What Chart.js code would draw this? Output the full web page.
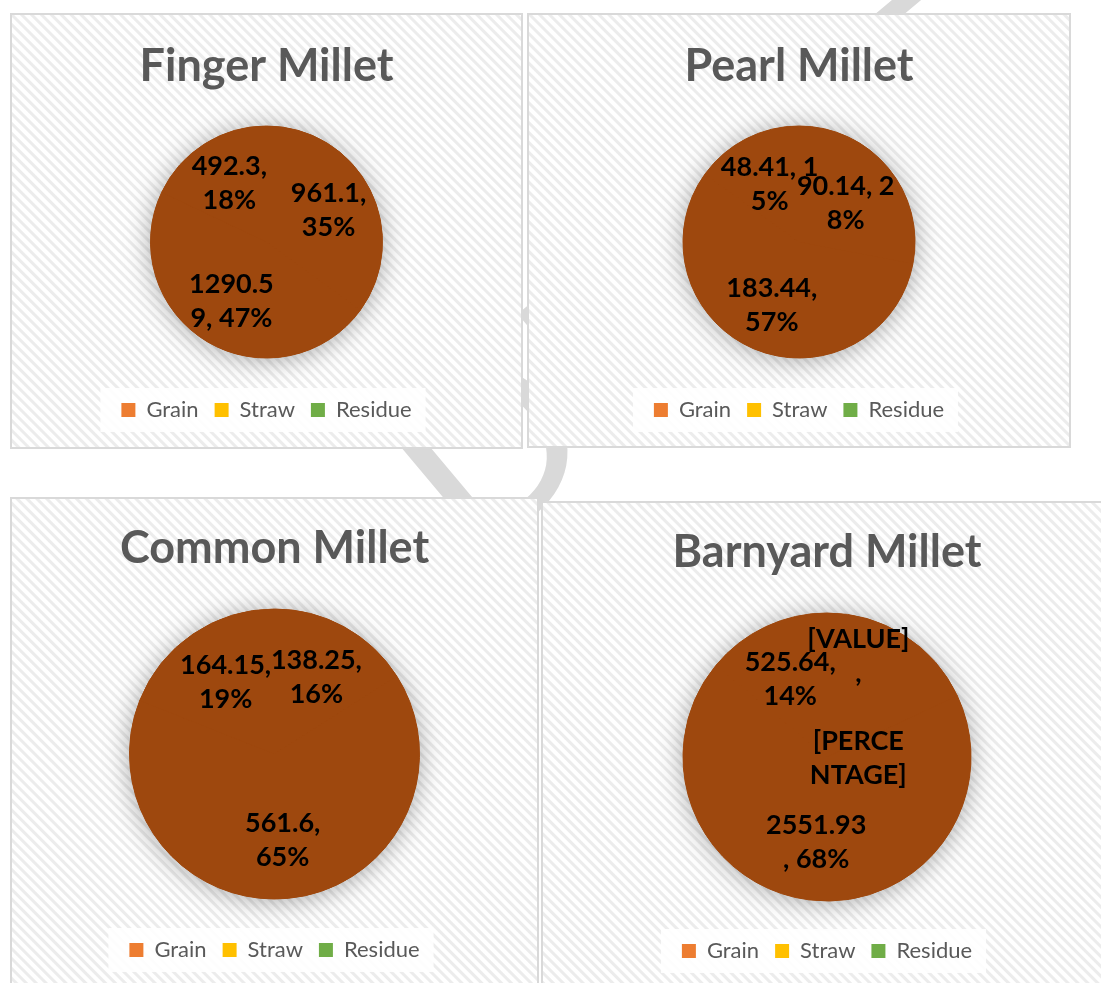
<!DOCTYPE html>
<html>
<head>
<meta charset="utf-8">
<script src="https://cdn.jsdelivr.net/npm/chart.js@4"></script>
<style>
  body { margin: 0; background: #fff; width: 1101px; height: 983px; overflow: hidden; position: relative; font-family: Lato, sans-serif; }
  .panel { position: absolute; box-sizing: border-box; border: 2px solid #d9d9d9;
    background: repeating-linear-gradient(45deg, #fff 0px, #fff 2.5px, #ececec 3.5px, #ececec 5.5px, #fff 6.5px, #fff 7px); }
  .panel canvas { display: block; }
  #watermark { position: absolute; left: 700px; top: 260px; transform: translate(-50%, -50%) rotate(-40deg);
    font: 230px Lato, sans-serif; color: #d9d9d9; white-space: nowrap; }
</style>
</head>
<body>
<div id="watermark">DRAFT</div>
<div class="panel" style="left:10px; top:13px; width:513px; height:436px"><canvas id="finger" width="509" height="432"></canvas></div>
<div class="panel" style="left:527px; top:13px; width:544px; height:435px"><canvas id="pearl" width="540" height="431"></canvas></div>
<div class="panel" style="left:10px; top:497px; width:529px; height:500px"><canvas id="common" width="525" height="496"></canvas></div>
<div class="panel" style="left:541px; top:501px; width:572px; height:500px"><canvas id="barnyard" width="568" height="496"></canvas></div>
<script>
// legend entries, first slice starts at 12 o'clock going clockwise
const categories = ['Grain', 'Straw', 'Residue'];
const legendColors = ['#ED7D31', '#FFC000', '#70AD47'];
const sliceColor = '#9E480E';

const fingerValues = [961.1, 1290.59, 492.3];
const fingerLabels = [['961.1,', '35%'], ['1290.5', '9, 47%'], ['492.3,', '18%']];

const pearlValues = [90.14, 183.44, 48.41];
const pearlLabels = [['90.14, 2', '8%'], ['183.44,', '57%'], ['48.41, 1', '5%']];

const commonValues = [138.25, 561.6, 164.15];
const commonLabels = [['138.25,', '16%'], ['561.6,', '65%'], ['164.15,', '19%']];

// first value has a broken label in the original, estimated from the 18% share
const barnyardValues = [675.4, 2551.93, 525.64];
const barnyardLabels = [['[VALUE]', ',', '', '[PERCE', 'NTAGE]'], ['2551.93', ', 68%'], ['525.64,', '14%']];

const titleSize = 45;
const legendSize = 22;
const legendPad = 16;
const labelFont = 'bold 27px Lato';
const labelLine = 34;

const shadowPlugin = {
  id: 'pieShadow',
  beforeDraw(chart) {
    // white box behind the legend
    const boxes = chart.legend.legendHitBoxes;
    if (!boxes.length) return;
    const last = boxes[boxes.length - 1];
    const cy = boxes[0].top + boxes[0].height / 2;
    const ctx = chart.ctx;
    ctx.save();
    ctx.fillStyle = 'rgba(255,255,255,0.9)';
    const x0 = boxes[0].left - 21;
    ctx.fillRect(x0, cy - 22, last.left + last.width + 14 - x0, 44);
    ctx.restore();
  },
  beforeDatasetsDraw(chart) {
    const arc = chart.getDatasetMeta(0).data[0];
    const ctx = chart.ctx;
    ctx.save();
    ctx.shadowColor = 'rgba(0,0,0,0.35)';
    ctx.shadowBlur = 26;
    ctx.shadowOffsetY = 2;
    ctx.fillStyle = sliceColor;
    ctx.beginPath();
    ctx.arc(arc.x, arc.y, arc.outerRadius, 0, Math.PI * 2);
    ctx.fill();
    ctx.restore();
  }
};

function labelPlugin(labels) {
  return {
    id: 'sliceLabels',
    afterDatasetsDraw(chart) {
      const ctx = chart.ctx;
      ctx.save();
      ctx.font = labelFont;
      ctx.fillStyle = '#000';
      ctx.textAlign = 'center';
      ctx.textBaseline = 'middle';
      chart.getDatasetMeta(0).data.forEach((arc, i) => {
        const lines = labels[i];
        const w = Math.max(...lines.map(t => ctx.measureText(t).width));
        const h = lines.length * labelLine;
        const mid = (arc.startAngle + arc.endAngle) / 2;
        const R = arc.outerRadius;
        // start at 60% of the radius, pull in until the label box sits inside the pie
        let d = R * 0.6;
        const fits = (dd) => {
          const cx = Math.cos(mid) * dd, cy = Math.sin(mid) * dd;
          return [[-1, -1], [1, -1], [-1, 1], [1, 1]].every(([sx, sy]) =>
            Math.hypot(cx + sx * w / 2, cy + sy * h / 2 * 0.8) <= R);
        };
        while (d > 0 && !fits(d)) d -= 1;
        const px = arc.x + Math.cos(mid) * d;
        const py = arc.y + Math.sin(mid) * d;
        lines.forEach((t, k) => {
          ctx.fillText(t, px, py + (k - (lines.length - 1) / 2) * labelLine);
        });
      });
      ctx.restore();
    }
  };
}

function drawPie(id, title, values, labels, box) {
  const canvas = document.getElementById(id);
  const H = canvas.height;
  const titleLine = titleSize * 1.2;
  const chartBottom = box.legendY - legendSize / 2 - legendPad;
  const chartTop = 2 * box.pieY - chartBottom;

  new Chart(canvas, {
    type: 'pie',
    data: {
      labels: categories,
      datasets: [{
        data: values,
        backgroundColor: sliceColor,
        borderColor: sliceColor,
        borderWidth: 1,
        hoverOffset: 0
      }]
    },
    options: {
      responsive: false,
      animation: false,
      events: [],
      radius: box.r,
      layout: { padding: { top: 0, left: 0, right: 0, bottom: H - 10 - legendSize / 2 - box.legendY } },
      plugins: {
        title: {
          display: true,
          text: title,
          color: '#595959',
          font: { family: 'Lato', size: titleSize, weight: 'bold', lineHeight: 1.2 },
          padding: { top: box.titleY - titleLine / 2, bottom: chartTop - box.titleY - titleLine / 2 }
        },
        legend: {
          position: 'bottom',
          labels: {
            color: '#595959',
            font: { family: 'Lato', size: legendSize },
            boxWidth: 14,
            boxHeight: 14,
            padding: legendPad,
            generateLabels: () => categories.map((c, i) => ({
              text: c,
              fillStyle: legendColors[i],
              strokeStyle: legendColors[i],
              lineWidth: 0,
              fontColor: '#595959',
              hidden: false,
              index: i
            }))
          }
        },
        tooltip: { enabled: false }
      }
    },
    plugins: [shadowPlugin, labelPlugin(labels)]
  });
}

drawPie('finger', 'Finger Millet', fingerValues, fingerLabels, { titleY: 51.5, pieY: 227, legendY: 395, r: 116 });
drawPie('pearl', 'Pearl Millet', pearlValues, pearlLabels, { titleY: 51.5, pieY: 227, legendY: 395, r: 116 });
drawPie('common', 'Common Millet', commonValues, commonLabels, { titleY: 49, pieY: 255, legendY: 451, r: 145 });
drawPie('barnyard', 'Barnyard Millet', barnyardValues, barnyardLabels, { titleY: 49, pieY: 254, legendY: 448, r: 144 });
</script>
</body>
</html>
